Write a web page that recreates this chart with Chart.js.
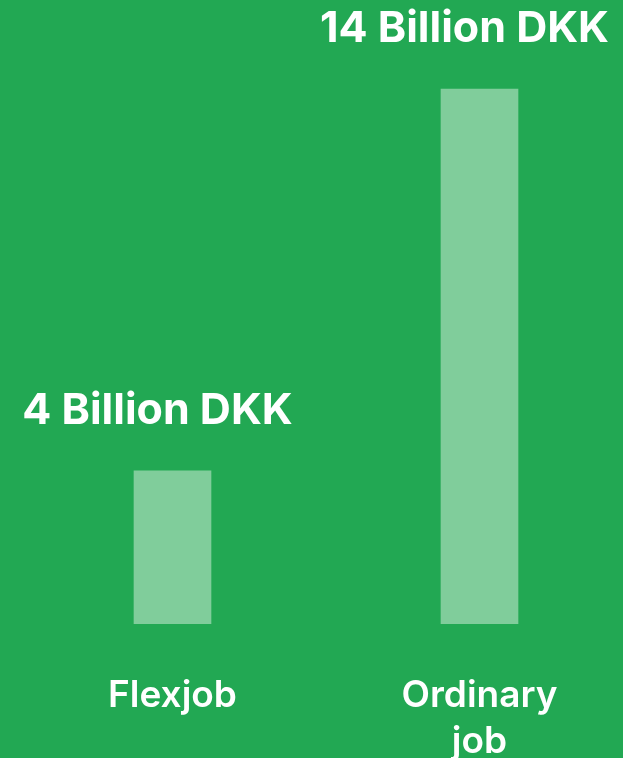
<!DOCTYPE html>
<html>
<head>
<meta charset="utf-8">
<script src="https://cdn.jsdelivr.net/npm/chart.js@4"></script>
<style>
  html, body { margin: 0; padding: 0; background: #22A853; }
  #wrap { width: 623px; height: 758px; }
</style>
</head>
<body>
<div id="wrap"><canvas id="c"></canvas></div>
<script>
const categories = [['Flexjob'], ['Ordinary', 'job']];
const values = [4, 14];
const valueUnit = ' Billion DKK';

const valueLabels = {
  id: 'valueLabels',
  afterDatasetsDraw(chart) {
    const ctx = chart.ctx;
    const meta = chart.getDatasetMeta(0);
    ctx.save();
    ctx.fillStyle = '#ffffff';
    ctx.font = 'bold 43px Inter';
    ctx.textAlign = 'center';
    ctx.textBaseline = 'alphabetic';
    meta.data.forEach((bar, i) => {
      ctx.fillText(values[i] + valueUnit, bar.x - 15, bar.y - 47);
    });
    ctx.restore();
  }
};

new Chart(document.getElementById('c'), {
  type: 'bar',
  data: {
    labels: categories,
    datasets: [{
      data: values,
      backgroundColor: '#80CD9B',
      borderWidth: 0,
      barThickness: 77,
      clip: false
    }]
  },
  options: {
    responsive: true,
    maintainAspectRatio: false,
    animation: false,
    layout: { padding: { top: 89, left: 172.5, right: 143.5, bottom: -48 } },
    plugins: { legend: { display: false }, tooltip: { enabled: false } },
    scales: {
      x: {
        offset: false,
        grid: { display: false },
        border: { display: false },
        ticks: {
          color: '#ffffff',
          font: { family: 'Inter', size: 37, weight: '600', lineHeight: 1.22 },
          padding: 42,
          maxRotation: 0,
          autoSkip: false
        }
      },
      y: {
        display: false,
        min: 0,
        max: 14
      }
    }
  },
  plugins: [valueLabels]
});
</script>
</body>
</html>
